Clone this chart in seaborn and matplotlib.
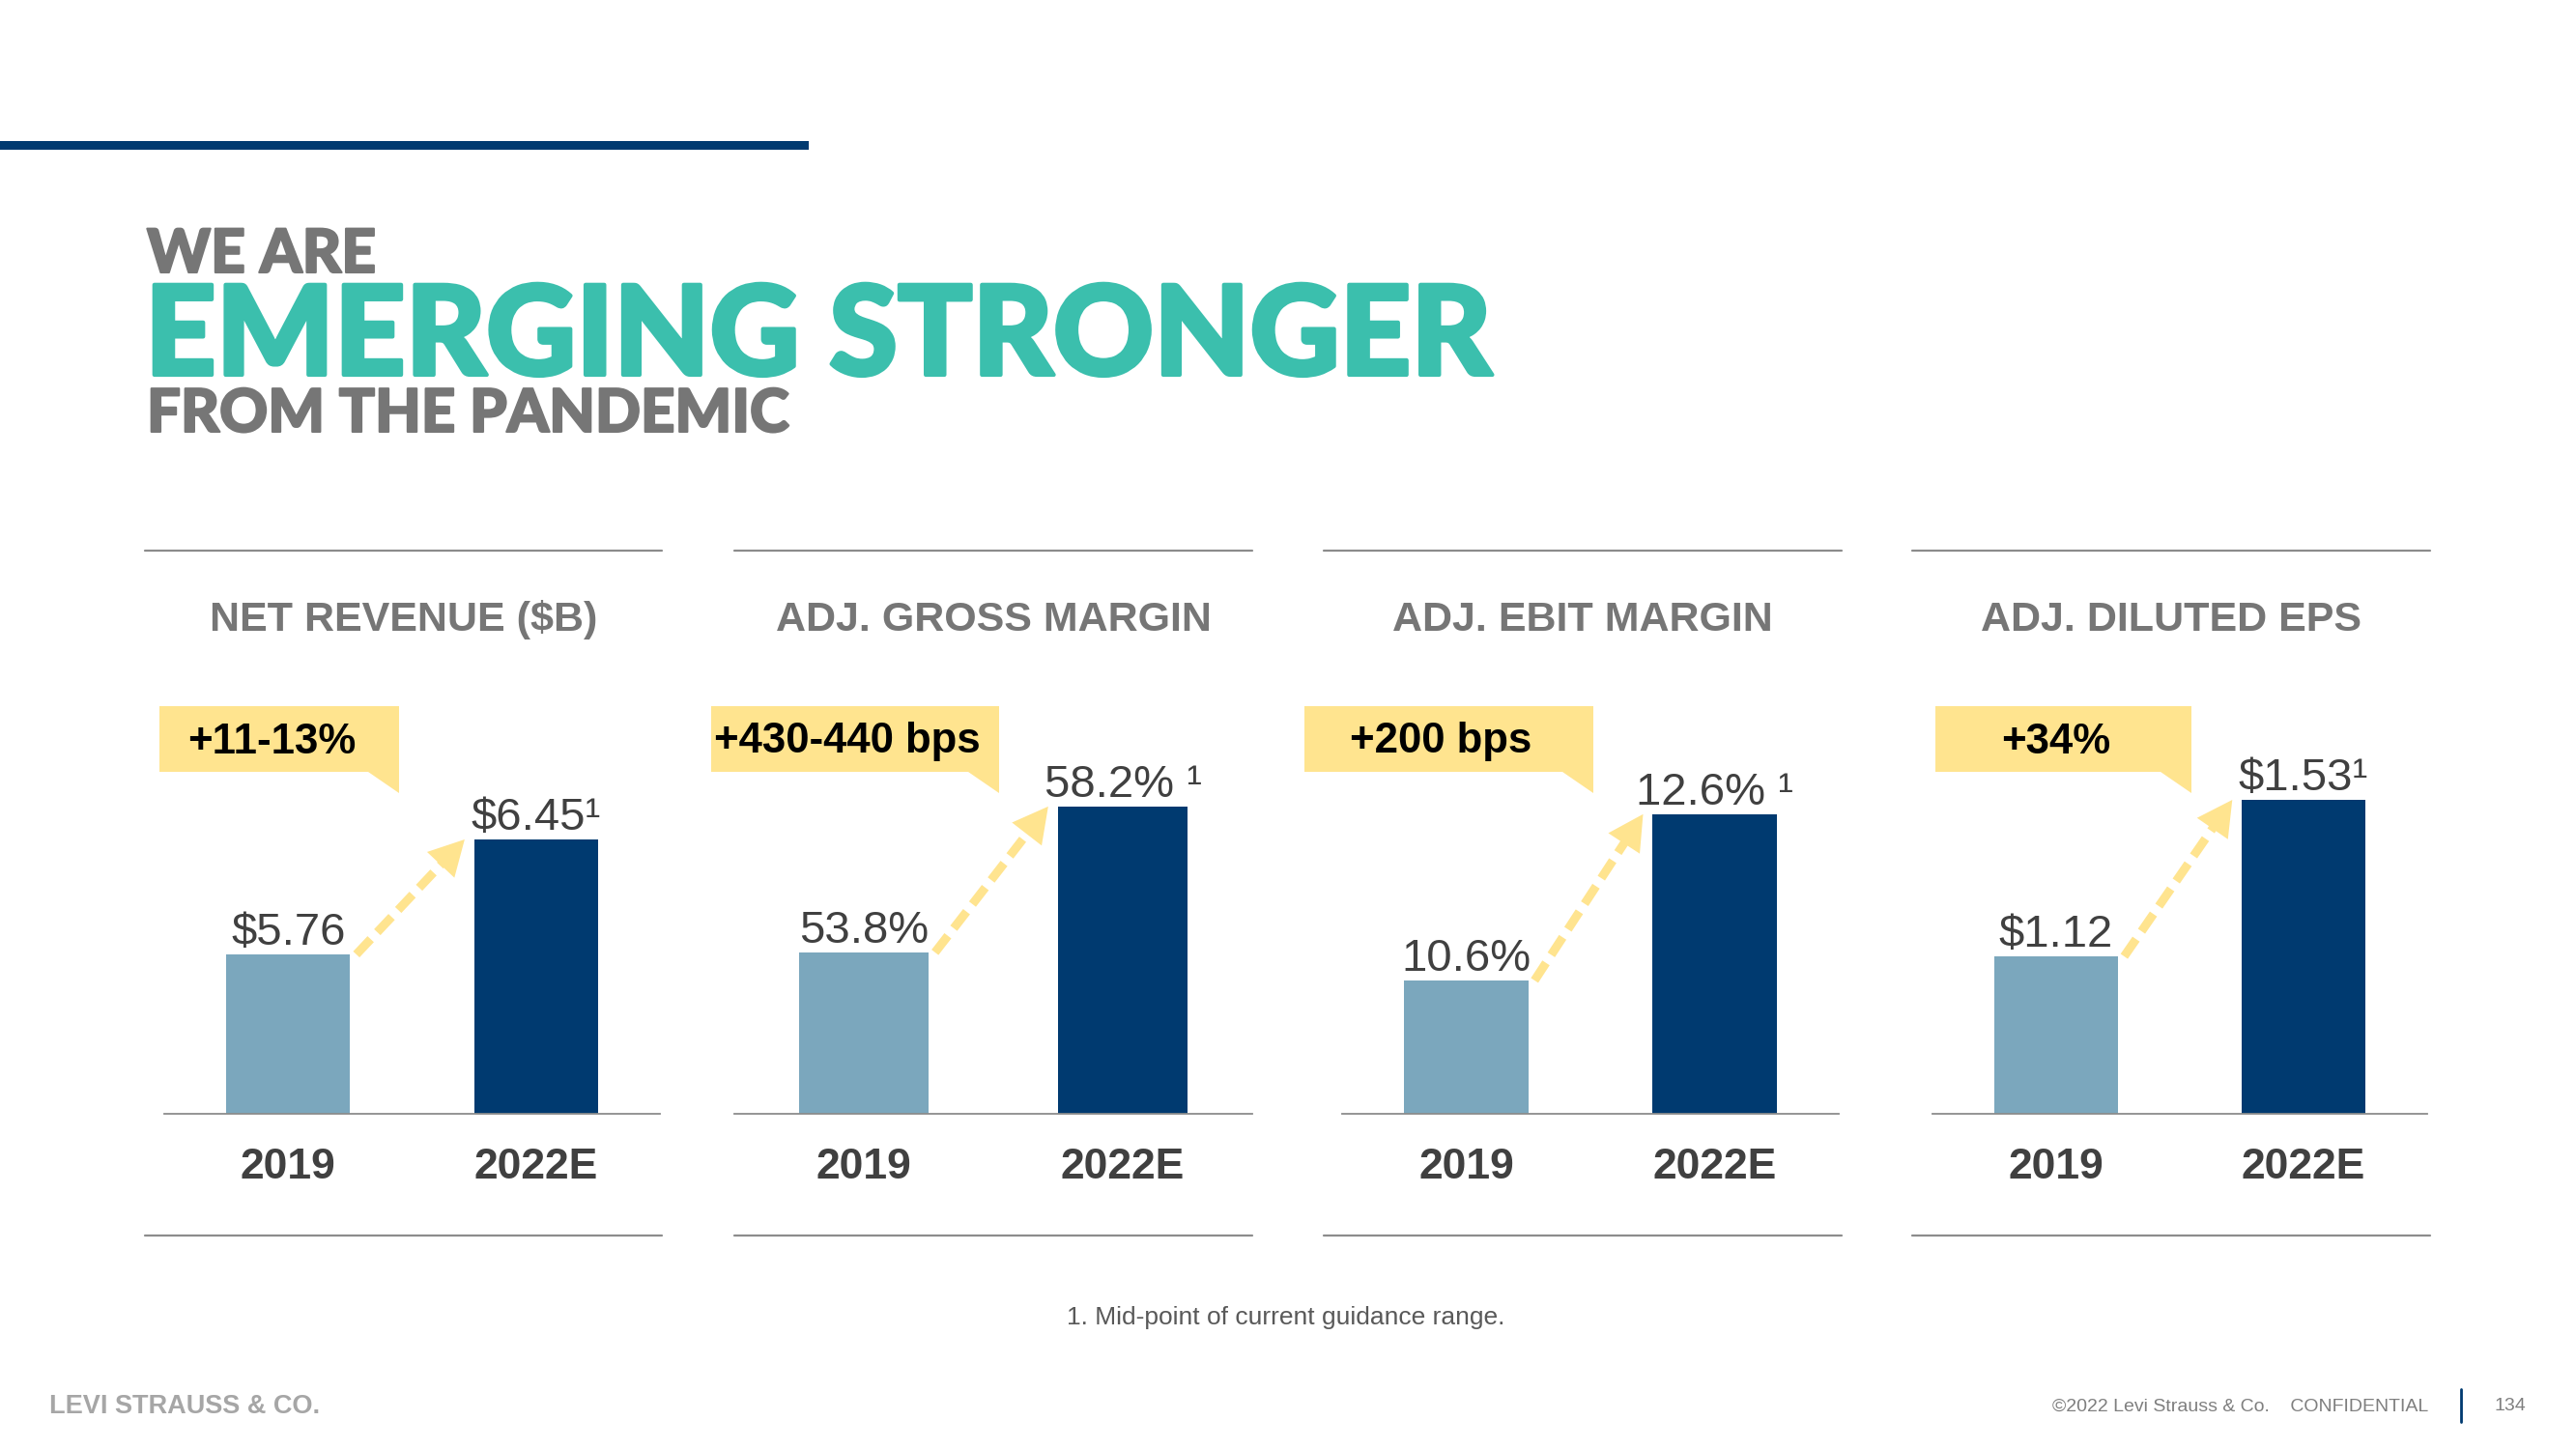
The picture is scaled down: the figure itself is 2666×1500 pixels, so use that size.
import matplotlib
matplotlib.use("Agg")
import matplotlib.pyplot as plt
import matplotlib.patheffects as pe
from matplotlib.patches import Polygon, Rectangle
from matplotlib.lines import Line2D
import seaborn as sns
import pandas as pd

# ---- chart data ----
panel_titles = ["NET REVENUE ($B)", "ADJ. GROSS MARGIN", "ADJ. EBIT MARGIN", "ADJ. DILUTED EPS"]
years = ["2019", "2022E"]
net_revenue = [5.76, 6.45]
gross_margin = [53.8, 58.2]
ebit_margin = [10.6, 12.6]
diluted_eps = [1.12, 1.53]
value_labels = [["$5.76", "$6.45¹"], ["53.8%", "58.2% ¹"], ["10.6%", "12.6% ¹"], ["$1.12", "$1.53¹"]]
growth_labels = ["+11-13%", "+430-440 bps", "+200 bps", "+34%"]
footnote = "1. Mid-point of current guidance range."

# ---- style ----
NAVY = "#003A70"
STEEL = "#7BA7BD"
TEAL = "#3BBFAD"
GREY_TITLE = "#767676"
YELLOW = "#FFE48F"
LINE_GREY = "#8C8C8C"
TEXT_DARK = "#404040"

W, H = 2666, 1500

sns.set_theme(style="white")
plt.rcParams["font.family"] = ["Liberation Sans", "DejaVu Sans"]

HEAVY = ["Lato", "Liberation Sans", "DejaVu Sans"]


def fx(px):
    return px / W


def fy(py):
    return 1 - py / H


def heavy(color, width):
    # thicken the headline glyphs to get a black-weight look
    return [pe.withStroke(linewidth=width, foreground=color)]


fig = plt.figure(figsize=(W / 100, H / 100), dpi=100)
fig.patch.set_facecolor("white")

# top accent bar
fig.patches.append(Rectangle((0, fy(155)), fx(837), 9 / H, transform=fig.transFigure,
                             facecolor=NAVY, edgecolor="none"))

# headline
fig.text(fx(152), fy(282), "WE ARE", fontsize=45, family=HEAVY, weight="black",
         color=GREY_TITLE, va="baseline", path_effects=heavy(GREY_TITLE, 1.5))
fig.text(fx(150), fy(388), "EMERGING STRONGER", fontsize=92.5, family=HEAVY, weight="black",
         color=TEAL, va="baseline", path_effects=heavy(TEAL, 3))
fig.text(fx(152), fy(447), "FROM THE PANDEMIC", fontsize=44.5, family=HEAVY, weight="black",
         color=GREY_TITLE, va="baseline", path_effects=heavy(GREY_TITLE, 1.5))

# per-panel layout (pixels) and value range so that bar heights match the slide
axes_px = [(170, 683), (760, 1296), (1389, 1903), (2000, 2512)]
frame_px = [(150, 685), (760, 1296), (1370, 1906), (1979, 2515)]
callout_px = [(165, 413), (736, 1034), (1350, 1649), (2003, 2268)]
ylims = [(4.803, 7.430), (48.93, 62.13), (8.995, 14.26), (0.7075, 1.854)]
series = [net_revenue, gross_margin, ebit_margin, diluted_eps]

AX_BOTTOM, AX_TOP = 1153, 700

for i, vals in enumerate(series):
    l, r = axes_px[i]
    ax = fig.add_axes([fx(l), fy(AX_BOTTOM), fx(r) - fx(l), (AX_BOTTOM - AX_TOP) / H])
    df = pd.DataFrame({"year": years, "value": vals})
    sns.barplot(data=df, x="year", y="value", hue="year", palette=[STEEL, NAVY],
                width=0.5, saturation=1, legend=False, linewidth=0, ax=ax)
    ax.set_xlim(-0.5, 1.5)
    ax.set_ylim(*ylims[i])
    ax.set_facecolor("none")
    for s in ["top", "left", "right"]:
        ax.spines[s].set_visible(False)
    ax.spines["bottom"].set_color(LINE_GREY)
    ax.spines["bottom"].set_linewidth(1.3)
    ax.set_yticks([])
    ax.set_xlabel("")
    ax.set_ylabel("")
    ax.tick_params(axis="x", length=0, pad=25)
    ax.set_xticks([0, 1])
    ax.set_xticklabels(years, fontsize=32, weight="bold", color=TEXT_DARK)

    # value labels
    for j, v in enumerate(vals):
        ax.annotate(value_labels[i][j], xy=(j, v), xytext=(0, 7), textcoords="offset points",
                    ha="center", va="baseline", fontsize=34, color=TEXT_DARK,
                    annotation_clip=False)

    # dashed growth arrow
    x0, y0 = 0.275, vals[0]
    x1, y1 = 0.712, vals[1]
    t = 0.9
    ax.plot([x0, x0 + (x1 - x0) * t], [y0, y0 + (y1 - y0) * t], color=YELLOW, lw=6.5,
            ls=(0, (2.4, 1.1)), dash_capstyle="butt", clip_on=False)
    tm = 0.5
    ax.annotate("", xy=(x1, y1), xytext=(x0 + (x1 - x0) * tm, y0 + (y1 - y0) * tm),
                arrowprops=dict(arrowstyle="-|>,head_length=1.3,head_width=0.7",
                                mutation_scale=20, color=YELLOW, lw=0, shrinkA=0, shrinkB=0),
                annotation_clip=False)

    # panel frame lines and title
    fl, fr = frame_px[i]
    for yy in (570, 1279):
        fig.lines.append(Line2D([fx(fl), fx(fr)], [fy(yy), fy(yy)], transform=fig.transFigure,
                                color=LINE_GREY, lw=1.6))
    fig.text(fx((fl + fr) / 2), fy(642), panel_titles[i], fontsize=31, weight="bold",
             color=GREY_TITLE, ha="center", va="center")

    # callout box with tail
    cl, cr = callout_px[i]
    top, bot, tail = 731, 799, 821
    poly = [(cl, top), (cr, top), (cr, tail), (cr - 32, bot), (cl, bot)]
    fig.patches.append(Polygon([(fx(px), fy(py)) for px, py in poly], closed=True,
                               transform=fig.transFigure, facecolor=YELLOW, edgecolor="none"))
    fig.text(fx((cl + cr) / 2 - 8), fy(768), growth_labels[i], fontsize=31.5, weight="bold",
             color="black", ha="center", va="center")

# footnote and footer
fig.text(fx(1331), fy(1364), footnote, fontsize=19, color="#595959",
         ha="center", va="center")
fig.text(fx(51), fy(1456), "LEVI STRAUSS & CO.", fontsize=19.5, weight="bold",
         color="#A6A6A6", va="center")
fig.text(fx(2513), fy(1456), "©2022 Levi Strauss & Co.    CONFIDENTIAL", fontsize=14,
         color="#7F7F7F", ha="right", va="center")
fig.lines.append(Line2D([fx(2547), fx(2547)], [fy(1438), fy(1472)], transform=fig.transFigure,
                        color=NAVY, lw=2))
fig.text(fx(2598), fy(1456), "134", fontsize=14, color="#7F7F7F",
         ha="center", va="center")

fig.savefig("out.png", dpi=100, facecolor="white")
